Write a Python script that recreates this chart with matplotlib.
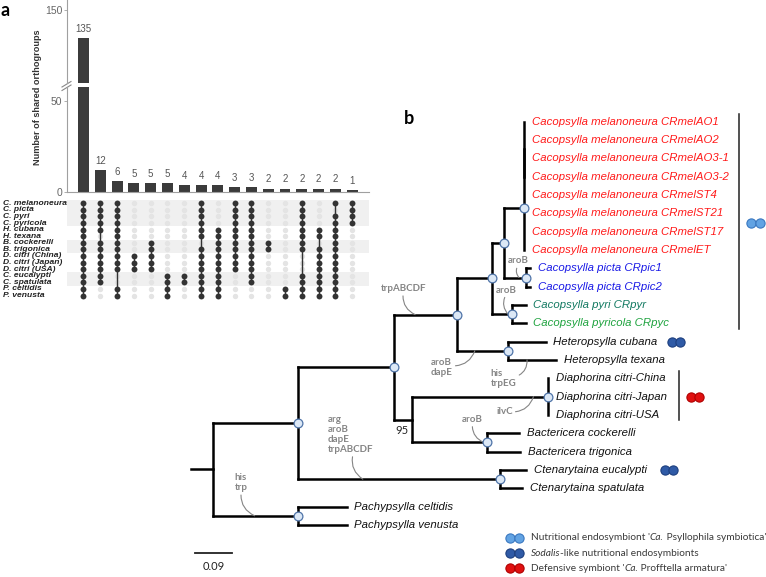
import matplotlib.pyplot as plt
import numpy as np
from matplotlib.transforms import blended_transform_factory

W, H = 766, 577
DPI = 100

# ---------------- panel a: shared orthogroups ----------------
set_names = ['C. melanoneura', 'C. picta', 'C. pyri', 'C. pyricola', 'H. cubana',
             'H. texana', 'B. cockerelli', 'B. trigonica', 'D. citri (China)',
             'D. citri (Japan)', 'D. citri (USA)', 'C. eucalypti', 'C. spatulata',
             'P. celtidis', 'P. venusta']
shaded_rows = [(0, 3), (6, 7), (11, 12)]
intersection_counts = [135, 12, 6, 5, 5, 5, 4, 4, 4, 3, 3, 2, 2, 2, 2, 2, 1]
intersection_members = [
    [0, 1, 2, 3, 4, 5, 6, 7, 8, 9, 10, 11, 12, 13, 14],
    [0, 1, 2, 3, 4, 6, 7, 8, 9, 10, 11, 12],
    [0, 1, 2, 3, 4, 5, 6, 7, 8, 9, 10, 13, 14],
    [8, 9, 10],
    [6, 7, 8, 9, 10],
    [11, 12, 13, 14],
    [11, 12],
    [0, 1, 2, 3, 4, 5, 7, 8, 9, 10, 11, 12, 13, 14],
    [4, 5, 6, 7, 8, 9, 10, 11, 12, 13, 14],
    [0, 1, 2, 3, 4, 5, 6, 7, 8, 9, 10],
    [0, 1, 2, 3, 4, 5, 6, 7, 8, 9, 10, 11, 12],
    [6, 7],
    [13, 14],
    [0, 1, 2, 3, 4, 5, 6, 7, 11, 12, 13, 14],
    [4, 5, 7, 8, 9, 10, 11, 12, 13, 14],
    [0, 2, 3, 4, 5, 6, 7, 8, 9, 10, 11, 12, 13, 14],
    [0, 1, 2, 3],
]

# ---------------- panel b: symbiont tree ----------------
tip_labels = ['Cacopsylla melanoneura CRmelAO1', 'Cacopsylla melanoneura CRmelAO2',
              'Cacopsylla melanoneura CRmelAO3-1', 'Cacopsylla melanoneura CRmelAO3-2',
              'Cacopsylla melanoneura CRmelST4', 'Cacopsylla melanoneura CRmelST21',
              'Cacopsylla melanoneura CRmelST17', 'Cacopsylla melanoneura CRmelET',
              'Cacopsylla picta CRpic1', 'Cacopsylla picta CRpic2',
              'Cacopsylla pyri CRpyr', 'Cacopsylla pyricola CRpyc',
              'Heteropsylla cubana', 'Heteropsylla texana',
              'Diaphorina citri-China', 'Diaphorina citri-Japan', 'Diaphorina citri-USA',
              'Bactericera cockerelli', 'Bactericera trigonica',
              'Ctenarytaina eucalypti', 'Ctenarytaina spatulata',
              'Pachypsylla celtidis', 'Pachypsylla venusta']
tip_colors = ['#ff1a1a'] * 8 + ['#1a1ae6'] * 2 + ['#137a62', '#1fa33f'] + ['#111111'] * 11

# (node, parent, branch length); ints are tips
tree_edges = [
    ('root', None, 0.054),
    ('pachy', 'root', 0.210), (21, 'pachy', 0.119), (22, 'pachy', 0.119),
    ('ingroup', 'root', 0.210),
    ('n_a', 'ingroup', 0.236),
    ('n_b', 'n_a', 0.154),
    ('n_d', 'n_b', 0.086),
    ('n_e', 'n_d', 0.029),
    ('mel', 'n_e', 0.050),
    ('mel_ao', 'mel', 0.0), (0, 'mel_ao', 0.0), (1, 'mel_ao', 0.0),
    (2, 'mel_ao', 0.0), (3, 'mel_ao', 0.0),
    (4, 'mel', 0.0), (5, 'mel', 0.0), (6, 'mel', 0.0), (7, 'mel', 0.0),
    ('picta', 'n_e', 0.054), (8, 'picta', 0.010), (9, 'picta', 0.010),
    ('pyri', 'n_d', 0.048), (10, 'pyri', 0.034), (11, 'pyri', 0.034),
    ('hetero', 'n_b', 0.124), (12, 'hetero', 0.093), (13, 'hetero', 0.119),
    ('n_c', 'n_a', 0.044),
    ('citri', 'n_c', 0.334), (14, 'citri', 0.0), (15, 'citri', 0.0), (16, 'citri', 0.0),
    ('bact', 'n_c', 0.183), (17, 'bact', 0.080), (18, 'bact', 0.081),
    ('cten', 'ingroup', 0.495), (19, 'cten', 0.064), (20, 'cten', 0.054),
]
support_nodes = ['pachy', 'ingroup', 'cten', 'n_a', 'n_b', 'citri', 'bact',
                 'hetero', 'n_d', 'pyri', 'n_e', 'mel', 'picta']
bootstrap_labels = [('n_c', '95')]

# gene losses: (text, branch node, fraction along branch)
gene_events = [
    ('trpABCDF', 'n_b', 0.33),
    ('aroB', 'picta', 0.68),
    ('aroB', 'pyri', 0.81),
    ('aroB\ndapE', 'hetero', 0.35),
    ('his\ntrpEG', 13, 0.40),
    ('ilvC', 'citri', 0.89),
    ('aroB', 'bact', 0.96),
    ('arg\naroB\ndapE\ntrpABCDF', 'cten', 0.32),
    ('his\ntrp', 'pachy', 0.49),
]

symbiont_types = ['psyllophila', 'sodalis', 'profftella']
symbiont_legend = [
    [("Nutritional endosymbiont '", 'normal'), ('Ca.', 'italic'), (" Psyllophila symbiotica'", 'normal')],
    [('Sodalis', 'italic'), ('-like nutritional endosymbionts', 'normal')],
    [("Defensive symbiont '", 'normal'), ('Ca.', 'italic'), (" Profftella armatura'", 'normal')],
]
# (first tip, last tip, symbiont, bracket)
symbiont_groups = [(0, 11, 'psyllophila', True), (12, 12, 'sodalis', False),
                   (14, 16, 'profftella', True), (19, 19, 'sodalis', False)]
scale_length = 0.09

SYM_FACE = {'psyllophila': '#62a3e3', 'sodalis': '#2f5aa6', 'profftella': '#e01010'}
SYM_EDGE = {'psyllophila': '#3a78c0', 'sodalis': '#1d3f7f', 'profftella': '#b00000'}


def px_rect(left, top, right, bottom):
    return [left / W, 1 - bottom / H, (right - left) / W, (bottom - top) / H]


fig = plt.figure(figsize=(W / DPI, H / DPI), dpi=DPI)

# overlay in pixel units for layout items
ov = fig.add_axes([0, 0, 1, 1])
ov.set_xlim(0, W)
ov.set_ylim(H, 0)
ov.axis('off')

# ---------------- tree ----------------
TREE_X0, PX_PER_UNIT = 190.7, 407.4
TIP0, TIP_STEP = 121.7, 18.33
tx = fig.add_axes([0, 0, 1, 1])
tx.set_xlim(-TREE_X0 / PX_PER_UNIT, (W - TREE_X0) / PX_PER_UNIT)
tx.set_ylim((H - TIP0) / TIP_STEP, -TIP0 / TIP_STEP)
tx.axis('off')

children = {}
parent_of = {}
length_of = {}
for node, parent, blen in tree_edges:
    parent_of[node] = parent
    length_of[node] = blen
    children.setdefault(parent, []).append(node)

node_x = {}


def place_x(node, x0):
    node_x[node] = x0 + length_of[node]
    for ch in children.get(node, []):
        place_x(ch, node_x[node])


node_y = {}


def place_y(node):
    if isinstance(node, int):
        node_y[node] = float(node)
    else:
        ys = [place_y(ch) for ch in children[node]]
        node_y[node] = float(np.mean(ys))
    return node_y[node]


place_x('root', 0.0)
place_y('root')

LW = 1.8
for node, parent, blen in tree_edges:
    x0 = 0.0 if parent is None else node_x[parent]
    if blen > 0:
        tx.plot([x0, node_x[node]], [node_y[node], node_y[node]], color='black',
                lw=LW, solid_capstyle='projecting', zorder=2)
    if node in children:
        ys = [node_y[c] for c in children[node]]
        tx.plot([node_x[node], node_x[node]], [min(ys), max(ys)], color='black',
                lw=LW, solid_capstyle='projecting', zorder=2)

tx.scatter([node_x[n] for n in support_nodes], [node_y[n] for n in support_nodes],
           s=40, facecolor='#dce8f6', edgecolor='#4f74a8', linewidth=0.9, zorder=4)

for i, lab in enumerate(tip_labels):
    tx.annotate(lab, (node_x[i], node_y[i]), xytext=(5.5, 0), textcoords='offset points',
                ha='left', va='center', fontsize=8.2, style='italic', color=tip_colors[i],
                family='Liberation Sans')

for node, lab in bootstrap_labels:
    tx.annotate(lab, (node_x[node], node_y[node]), xytext=(-7.8, -7.8),
                textcoords='offset points', ha='center', va='center', fontsize=8,
                color='#222222', family='Lato')

gene_layout = [  # text offset (pt), ha, leader start relpos
    ((-8.6, 18.7), 'center', (0.5, 0)),
    ((-0.7, 11.9), 'center', (0.5, 0)),
    ((-1.4, 17.3), 'center', (0.5, 0)),
    ((-23.8, -12.2), 'center', (1, 0.6)),
    ((-16.9, -13.2), 'center', (1, 0.6)),
    ((-20.9, -11.0), 'center', (1, 0.5)),
    ((-8.3, 16.6), 'center', (0.5, 0)),
    ((-25.0, 32.2), 'left', (0.55, 0)),
    ((-14.4, 23.8), 'left', (0.5, 0)),
]
for (txt, node, frac), (off, ha, rel) in zip(gene_events, gene_layout):
    x0 = node_x[parent_of[node]]
    xb = x0 + frac * (node_x[node] - x0)
    tx.annotate(txt, (xb, node_y[node]), xytext=off, textcoords='offset points',
                ha=ha, va='center', fontsize=7, fontweight='bold', color='#858585',
                family='Lato', linespacing=1.15, multialignment='left',
                arrowprops=dict(arrowstyle='-', color='#858585', lw=0.8, relpos=rel,
                                shrinkA=0, shrinkB=0,
                                connectionstyle='arc3,rad=0.35'))

# scale bar
sb_y = (553.3 - TIP0) / TIP_STEP
sb_x0 = (195 - TREE_X0) / PX_PER_UNIT
tx.plot([sb_x0, sb_x0 + scale_length], [sb_y, sb_y], color='#222222', lw=1.3)
tx.annotate('%.2f' % scale_length, (sb_x0 + scale_length / 2, sb_y), xytext=(0, -9.5),
            textcoords='offset points', ha='center', va='center', fontsize=8,
            color='#222222', family='Lato')

# clade brackets and symbiont dots
bt = blended_transform_factory(ov.transData, tx.transData)
pair_x = {0: 751, 12: 671.7, 14: 690.7, 19: 664.7}
bracket_x = {0: 739, 14: 679}
for first, last, sym, bracket in symbiont_groups:
    if bracket:
        ov.plot([bracket_x[first]] * 2, [first - 0.4, last + 0.3], color='#222222',
                lw=1.1, transform=bt)
    yc = (first + last) / 2
    ov.scatter([pair_x[first], pair_x[first] + 8.5], [yc, yc], s=44, transform=bt,
               facecolor=SYM_FACE[sym], edgecolor=SYM_EDGE[sym], linewidth=0.8, zorder=5)

# legend
fig.canvas.draw()
renderer = fig.canvas.get_renderer()
for k, (sym, runs) in enumerate(zip(symbiont_types, symbiont_legend)):
    y = 537.7 + k * 15.3
    ov.scatter([510, 518.5], [y, y], s=44, facecolor=SYM_FACE[sym], edgecolor=SYM_EDGE[sym],
               linewidth=0.8, zorder=5)
    x = 530.7
    for s, st in runs:
        t = ov.text(x, y, s, style=st, ha='left', va='center', fontsize=7.3,
                    color='#3a3a3a', family='Lato')
        x += t.get_window_extent(renderer=renderer).width

ov.text(0.5, 10, 'a', fontsize=13, fontweight='bold', family='Lato', ha='left', va='center')
ov.text(404, 118, 'b', fontsize=13, fontweight='bold', family='Lato', ha='left', va='center')

# ---------------- upset bars ----------------
ax_top = fig.add_axes(px_rect(66.7, 0, 369, 83))
ax_bot = fig.add_axes(px_rect(66.7, 87, 369, 192.3))
ax_mat = fig.add_axes(px_rect(66.7, 198, 369, 299.5))
cols = np.arange(len(intersection_counts))

for ax in (ax_top, ax_bot):
    ax.bar(cols, intersection_counts, width=0.65, color='#3b3b3b')
    ax.set_xlim(-1, len(cols))
    ax.set_xticks([])
    for sp in ('top', 'right'):
        ax.spines[sp].set_visible(False)
    ax.spines['left'].set_color('#a0a0a0')
    ax.spines['left'].set_linewidth(0.8)
    ax.tick_params(axis='y', length=2, width=0.6, color='#a0a0a0', labelsize=7.5,
                   labelcolor='#666666', pad=1)
    ax.patch.set_visible(False)
ax_top.spines['bottom'].set_visible(False)
ax_bot.spines['bottom'].set_color('#a0a0a0')
ax_bot.spines['bottom'].set_linewidth(0.8)
ax_top.set_ylim(111.3, 155.3)
ax_bot.set_ylim(0, 57.4)
ax_top.set_yticks([150])
ax_bot.set_yticks([0, 50])
for ax in (ax_top, ax_bot):
    for lab in ax.get_yticklabels():
        lab.set_family('Liberation Sans')

for c, v in zip(cols, intersection_counts):
    ax = ax_top if v > 57 else ax_bot
    ax.annotate(str(v), (c, v), xytext=(0, 3), textcoords='offset points', ha='center',
                va='bottom', fontsize=7, color='#555555', family='Liberation Sans')

ov.text(38, 97, 'Number of shared orthogroups', rotation=90, ha='center', va='center',
        fontsize=6.6, fontweight='bold', color='#333333', family='Liberation Sans')
# axis break marks
ov.plot([62, 71], [87, 81.5], color='#888888', lw=0.8)
ov.plot([62, 71], [90.5, 85], color='#888888', lw=0.8)

# ---------------- upset matrix ----------------
n_sets = len(set_names)
ax_mat.set_xlim(-1, len(cols))
ax_mat.set_ylim(n_sets - 0.4, -0.8)
ax_mat.axis('off')
for a, b in shaded_rows:
    ax_mat.axhspan(a - 0.5, b + 0.5, color='#f0f0f0', lw=0, zorder=0)
gx, gy = np.meshgrid(cols, np.arange(n_sets))
ax_mat.scatter(gx.ravel(), gy.ravel(), s=15, color='#e4e4e4', lw=0, zorder=1)
for c, members in zip(cols, intersection_members):
    ax_mat.plot([c, c], [min(members), max(members)], color='#333333', lw=1.0, zorder=2)
    ax_mat.scatter([c] * len(members), members, s=18, color='#333333', lw=0, zorder=3)

lt = blended_transform_factory(ov.transData, ax_mat.transData)
for i, name in enumerate(set_names):
    ov.text(3, i, name, transform=lt, ha='left', va='center', fontsize=6.1,
            style='italic', fontweight='bold', color='#222222', family='Liberation Sans')

fig.savefig('out.png', dpi=DPI)
